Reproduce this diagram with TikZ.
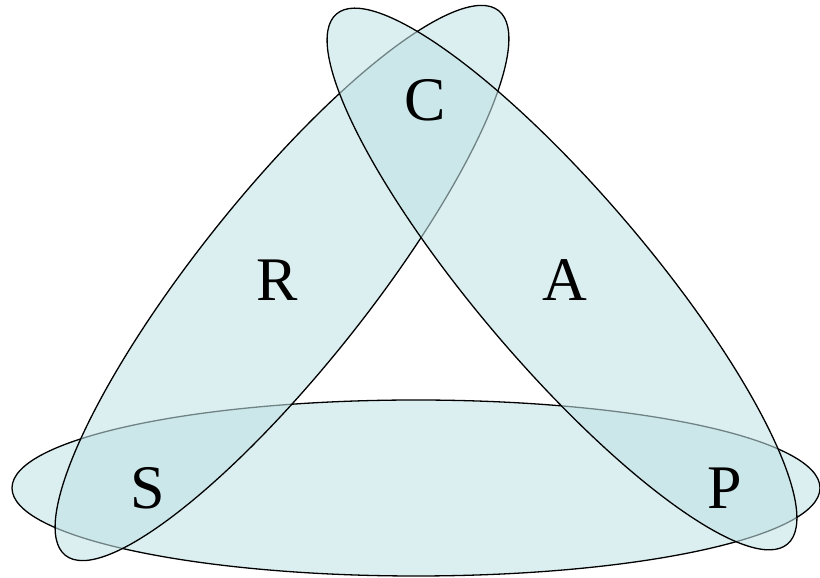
\documentclass[tikz,border=0pt]{standalone}
\usepackage{fontspec}
\setmainfont{Liberation Serif}
\definecolor{setfill}{RGB}{193,226,229}
\begin{document}
\begin{tikzpicture}[x=1pt,y=1pt,
  setshape/.style={fill=setfill, fill opacity=0.58, draw=black, line width=1.3pt},
  lbl/.style={font=\fontsize{62}{62}\selectfont, inner sep=0pt, anchor=center}]
\useasboundingbox (0,0) rectangle (820,578);
% bottom ellipse (S--P)
\path[setshape] (416,90) ellipse [x radius=404, y radius=88];
% left ellipse (S--C)
\path[setshape, rotate around={51.5:(282,295)}] (282,295) ellipse [x radius=348, y radius=86];
% right ellipse (C--P)
\path[setshape, rotate around={-49.6:(562,299)}] (562,299) ellipse [x radius=348, y radius=86];
\node[lbl] (C) at (425,478) {C};
\node[lbl] (R) at (277,298) {R};
\node[lbl] (A) at (565,298) {A};
\node[lbl] (S) at (148,90) {S};
\node[lbl] (P) at (725,90) {P};
\end{tikzpicture}
\end{document}
